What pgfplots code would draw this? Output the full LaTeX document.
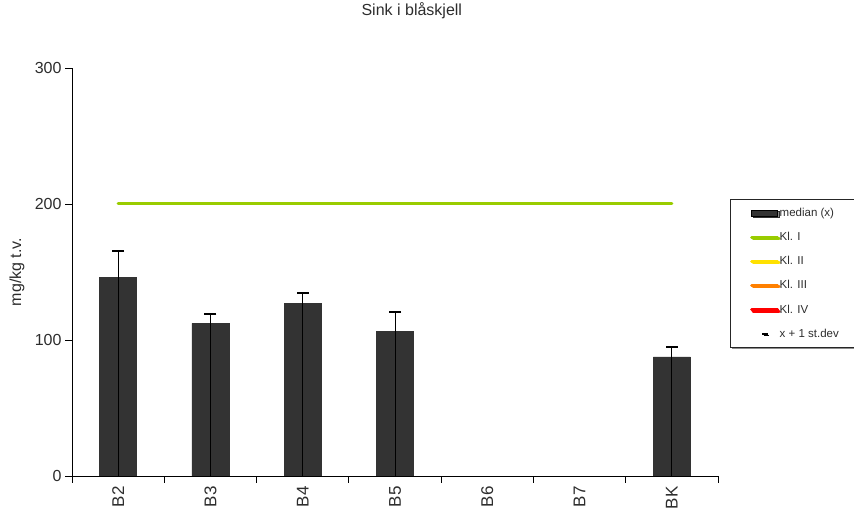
\documentclass[border=0pt]{standalone}
\usepackage{fontspec}
\setmainfont{Liberation Sans}
\usepackage{pgfplots}
\pgfplotsset{compat=1.18}
\usetikzlibrary{shadows}
\definecolor{barcol}{RGB}{51,51,51}
\definecolor{klI}{RGB}{153,204,0}
\definecolor{klII}{RGB}{255,225,0}
\definecolor{klIII}{RGB}{255,128,0}
\definecolor{klIV}{RGB}{255,0,0}
\definecolor{txt}{RGB}{45,45,45}
\begin{document}
\begin{tikzpicture}[x=1pt,y=1pt]
\useasboundingbox (0,0) rectangle (854,510);
\begin{axis}[
  at={(72pt,34pt)}, anchor=south west,
  scale only axis, width=646pt, height=408pt,
  xmin=-0.5, xmax=6.5, ymin=0, ymax=300,
  axis lines*=left,
  xtick={-0.5,0.5,1.5,2.5,3.5,4.5,5.5,6.5},
  x tick label as interval,
  xticklabels={B2,B3,B4,B5,B6,B7,BK},
  ytick={0,100,200,300},
  tick align=outside,
  major tick length=7pt,
  tick style={black, line width=0.8pt},
  axis line style={black, line width=0.8pt},
  /pgf/number format/assume math mode=true,
  tick label style={font=\fontsize{16}{19}\selectfont, text=txt},
  xticklabel style={rotate=90, anchor=east, font=\fontsize{17}{19}\selectfont},
  title={Sink i blåskjell},
  title style={at={(axis description cs:0.526,1.125)}, anchor=center, font=\fontsize{16}{19}\selectfont, text=txt},
  ylabel={mg/kg t.v.},
  ylabel style={at={(axis description cs:-0.085,0.5)}, anchor=center, font=\fontsize{16}{19}\selectfont, text=txt},
  legend cell align=left,
  legend image code/.code={\draw[#1] (0pt,0pt) -- (26pt,0pt);},
  legend style={at={(axis description cs:1.0186,0.679)}, anchor=north west,
    draw=black!85, line width=0.6pt, fill=white,
    font=\fontsize{11.5}{13}\selectfont, text=txt,
    inner xsep=19.8pt, inner ysep=1.5pt, row sep=0pt, column sep=0.6pt,
    nodes={inner sep=0pt, minimum height=24.2pt},
    general shadow={fill=black!45, shadow xshift=1.5pt, shadow yshift=-1.5pt}},
]
\addplot[ybar, bar width=37pt, fill=barcol, draw=black!80, line width=0.6pt,
  legend image code/.code={\draw[draw=black, line width=0.5pt, fill=barcol] (0pt,-3pt) rectangle (26pt,3pt);}]
  coordinates {(0,146.3) (1,112.3) (2,127.0) (3,106.4) (6,87.5)};
\addlegendentry{median (x)}
\addplot[klI, line width=3pt, line cap=round] coordinates {(0,200) (6,200)};
\addlegendentry{Kl. I}
\addlegendimage{klII, line width=3pt, line cap=round}
\addlegendentry{Kl. II}
\addlegendimage{klIII, line width=3pt, line cap=round}
\addlegendentry{Kl. III}
\addlegendimage{klIV, line width=3pt, line cap=round}
\addlegendentry{Kl. IV}
\addplot[ycomb, black, line width=0.8pt, mark=-, mark size=6pt, mark options={line width=2.3pt, solid},
  legend image code/.code={\draw[black, line width=2.5pt] (10.8pt,0pt) -- (16pt,0pt);}]
  coordinates {(0,165.4) (1,119.0) (2,134.3) (3,120.4) (6,94.9)};
\addlegendentry{x + 1 st.dev\hspace*{30pt}}
\end{axis}
\end{tikzpicture}
\end{document}
